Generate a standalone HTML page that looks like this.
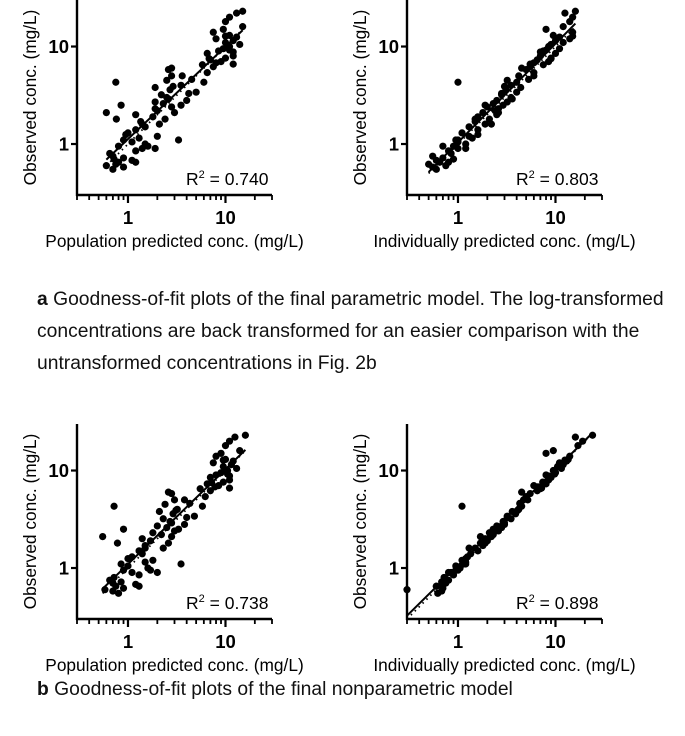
<!DOCTYPE html>
<html><head><meta charset="utf-8"><style>
body{margin:0;background:#fff}
svg{display:block;font-family:"Liberation Sans",Arial,sans-serif}
</style></head><body>
<svg id="fig" width="685" height="736" viewBox="0 0 685 736" xmlns="http://www.w3.org/2000/svg">
<text x="37" y="305" font-size="19.3" fill="#111"><tspan font-weight="bold">a</tspan>  Goodness-of-fit plots of the final parametric model. The log-transformed</text>
<text x="37" y="337" font-size="19.3" fill="#111">concentrations are back transformed for an easier comparison with the</text>
<text x="37" y="369" font-size="19.3" fill="#111">untransformed concentrations in Fig. 2b</text>
<text x="37" y="695" font-size="19.3" fill="#111"><tspan font-weight="bold">b</tspan>  Goodness-of-fit plots of the final nonparametric model</text>
</svg>
<script>
const observed=[0.55,0.58,0.6,0.62,0.65,0.68,0.7,0.72,0.75,0.8,0.85,0.9,0.95,1.0,1.05,1.1,1.15,1.2,1.3,1.4,1.5,1.6,1.7,1.8,1.9,2.0,2.1,2.2,2.3,2.4,2.5,2.6,2.7,2.8,3.0,3.2,3.4,3.6,3.8,4.0,4.3,4.6,5.0,5.4,5.8,6.2,6.5,6.8,7.0,7.3,7.6,8.0,8.5,9.0,9.5,10,10.5,11,11.5,12,12.5,13,14,15,16,18,20,22,23,4.3,2.1,1.8,2.5,1.6,6.0,5.0,3.9,1.1,0.9,4.5,7.5,6.6,9.2,12.8,3.3,2.9,1.25,0.95,0.65,8.8];
const popPredA=[0.7,0.9,0.6,0.75,0.8,1.1,0.72,0.9,0.7,0.65,1.2,1.4,0.8,1.5,1.1,0.9,1.3,2.0,1.0,1.2,1.5,2.1,1.35,2.4,1.8,1.2,3.0,2.0,1.9,2.8,3.5,2.3,1.9,4.0,2.5,2.2,5.0,2.7,1.9,3.5,6.0,4.5,2.8,6.5,2.6,7.5,5.8,8.0,9.0,7.0,10,12,6.5,8.5,9.5,11,14,10,12,8.0,13,11,7.5,9.5,15,10,11,13,15,0.75,0.6,0.76,0.85,1.4,2.8,3.6,2.9,3.3,1.9,2.5,6.8,12,11,10,4.2,2.6,0.95,1.6,1.2,12];
const indPredA=[0.6,0.55,0.75,0.5,0.65,0.6,0.9,0.7,0.55,0.85,0.8,1.0,0.9,1.2,1.0,1.0,1.4,1.3,1.1,1.6,1.3,1.9,1.5,2.1,1.6,2.5,1.8,2.4,2.6,2.0,2.9,2.3,3.2,2.5,3.5,2.8,4.0,3.1,4.4,3.5,4.0,5.3,4.2,6.0,5.0,5.5,7.5,6.0,8.5,6.5,9.0,7.0,10,7.5,11,8.5,9.0,12,10,14,11,9.5,15,8.0,12,14,15,12.5,16,1.0,2.6,1.5,1.9,2.2,4.5,6.0,3.0,0.95,1.2,3.2,9.0,5.5,8.0,15,2.8,3.6,1.6,0.7,0.8,7.0];
const popPredB=[0.8,0.7,0.58,0.9,0.75,1.2,0.7,0.85,0.65,0.72,1.3,1.1,0.9,1.6,1.0,0.85,1.5,1.8,1.1,1.4,1.3,2.3,1.5,2.6,1.7,1.4,2.8,2.2,1.8,3.0,3.3,2.5,2.0,3.8,2.7,2.3,4.8,2.9,2.1,3.2,5.8,4.3,3.0,6.2,2.8,7.0,5.5,7.8,8.5,6.5,9.5,11,7.0,8.0,9.0,10.5,13,9.5,11.5,7.5,12,10,8.0,9.0,14,10,11,12.5,16,0.72,0.55,0.78,0.9,1.5,2.6,3.8,3.1,3.5,2.0,2.4,7.2,11,10.5,9.5,4.0,2.8,1.0,1.7,1.3,11];
const indPredB=[0.62,0.68,0.3,0.7,0.6,0.7,0.75,0.68,0.8,0.72,0.9,0.8,1.0,1.05,0.95,1.15,1.2,1.1,1.25,1.35,1.6,1.5,1.8,1.7,2.0,1.9,2.2,2.3,2.1,2.6,2.4,2.8,2.5,3.0,2.9,3.5,3.2,3.9,3.6,4.2,4.5,4.3,5.2,5.0,5.5,6.5,7.0,6.6,6.0,8.0,7.4,8.5,9.0,8.0,10.0,9.5,11.5,10.5,12,11,13,13.5,14,8.0,9.5,17,19,16,24,1.1,1.7,1.9,2.3,1.3,4.5,4.7,4.1,1.2,0.85,4.4,7.6,7.2,9.8,12.5,3.2,3.0,1.2,0.95,0.6,8.5];
const r2Labels=["0.740","0.803","0.738","0.898"];
const xTitles=["Population predicted conc. (mg/L)","Individually predicted conc. (mg/L)","Population predicted conc. (mg/L)","Individually predicted conc. (mg/L)"];
const majorTicks=[1,10];
const minorTicks=[0.3,0.4,0.5,0.6,0.7,0.8,0.9,2,3,4,5,6,7,8,9,20,30];

const NS="http://www.w3.org/2000/svg";
const svg=document.getElementById('fig');
function mk(tag,attrs,parent){const e=document.createElementNS(NS,tag);for(const k in attrs)e.setAttribute(k,attrs[k]);(parent||svg).appendChild(e);return e;}
const LMIN=Math.log10(0.3), DEC=97.5;

function drawPlot(idx,ox,oy,preds,name){
  const g=mk('g',{});
  
  
  const xs=v=>ox+(Math.log10(v)-LMIN)*DEC;
  const ys=v=>oy-(Math.log10(v)-LMIN)*DEC;
  for(let i=0;i<observed.length;i++){
    const c=mk('circle',{cx:xs(preds[i]),cy:ys(observed[i]),r:3.6,fill:'#000'},g);
    
    
  }
  const lx=preds.map(Math.log10), ly=observed.map(Math.log10);
  const n=lx.length, mx=lx.reduce((a,b)=>a+b)/n, my=ly.reduce((a,b)=>a+b)/n;
  let sxy=0,sxx=0;for(let i=0;i<n;i++){sxy+=(lx[i]-mx)*(ly[i]-my);sxx+=(lx[i]-mx)**2;}
  const b=sxy/sxx,a=my-b*mx;
  const xmin=Math.min(...preds), xmax=Math.max(...preds);
  const f=v=>Math.pow(10,a+b*Math.log10(v));
  const rl=mk('line',{x1:xs(xmin),y1:ys(f(xmin)),x2:xs(xmax),y2:ys(f(xmax)),stroke:'#000','stroke-width':2},g);
  
  
  const il=mk('line',{x1:xs(xmin),y1:ys(xmin),x2:xs(xmax),y2:ys(xmax),stroke:'#000','stroke-width':1.8,'stroke-dasharray':'1.5 4'},g);
  
  
  const top=oy-2*DEC;const right=ox+2*DEC;
  const ya=mk('line',{x1:ox,y1:top,x2:ox,y2:oy+1,stroke:'#000','stroke-width':2.4},g);
  
  
  const xa=mk('line',{x1:ox-1,y1:oy,x2:right,y2:oy,stroke:'#000','stroke-width':2.4},g);
  
  
  minorTicks.forEach(v=>{
    const t=mk('line',{x1:xs(v),y1:oy,x2:xs(v),y2:oy+5,stroke:'#000','stroke-width':1.8},g);
    
    
  });
  majorTicks.forEach(v=>{
    const t=mk('line',{x1:xs(v),y1:oy,x2:xs(v),y2:oy+8,stroke:'#000','stroke-width':2.2},g);
    
    
    const l=mk('text',{x:xs(v),y:oy+29,'font-size':18.5,'font-weight':'bold','text-anchor':'middle'},g);
    l.textContent=v;
    
    
    const t2=mk('line',{x1:ox-6,y1:ys(v),x2:ox,y2:ys(v),stroke:'#000','stroke-width':2.2},g);
    
    
    const l2=mk('text',{x:ox-8,y:ys(v)+6.5,'font-size':18.5,'font-weight':'bold','text-anchor':'end'},g);
    l2.textContent=v;
    
    
  });
  const xt=mk('text',{x:ox+DEC,y:oy+52,'font-size':17.3,'text-anchor':'middle'},g);
  xt.textContent=xTitles[idx];
  
  
  const yc=oy-DEC;
  const yt=mk('text',{x:ox-47,y:yc,'font-size':17.3,'text-anchor':'middle',transform:`rotate(-90 ${ox-41} ${yc})`},g);
  yt.setAttribute('x',ox-41);
  yt.textContent='Observed conc. (mg/L)';
  
  
  const r=mk('text',{x:ox+109,y:oy-10,'font-size':17.5},g);
  r.innerHTML='R<tspan dy="-7" font-size="11">2</tspan><tspan dy="7"> = '+r2Labels[idx]+'</tspan>';
  
  
}
drawPlot(0,77,195,popPredA,'plot-a-population');
drawPlot(1,407,195,indPredA,'plot-a-individual');
drawPlot(2,77,619,popPredB,'plot-b-population');
drawPlot(3,407,619,indPredB,'plot-b-individual');
</script>
</body></html>
